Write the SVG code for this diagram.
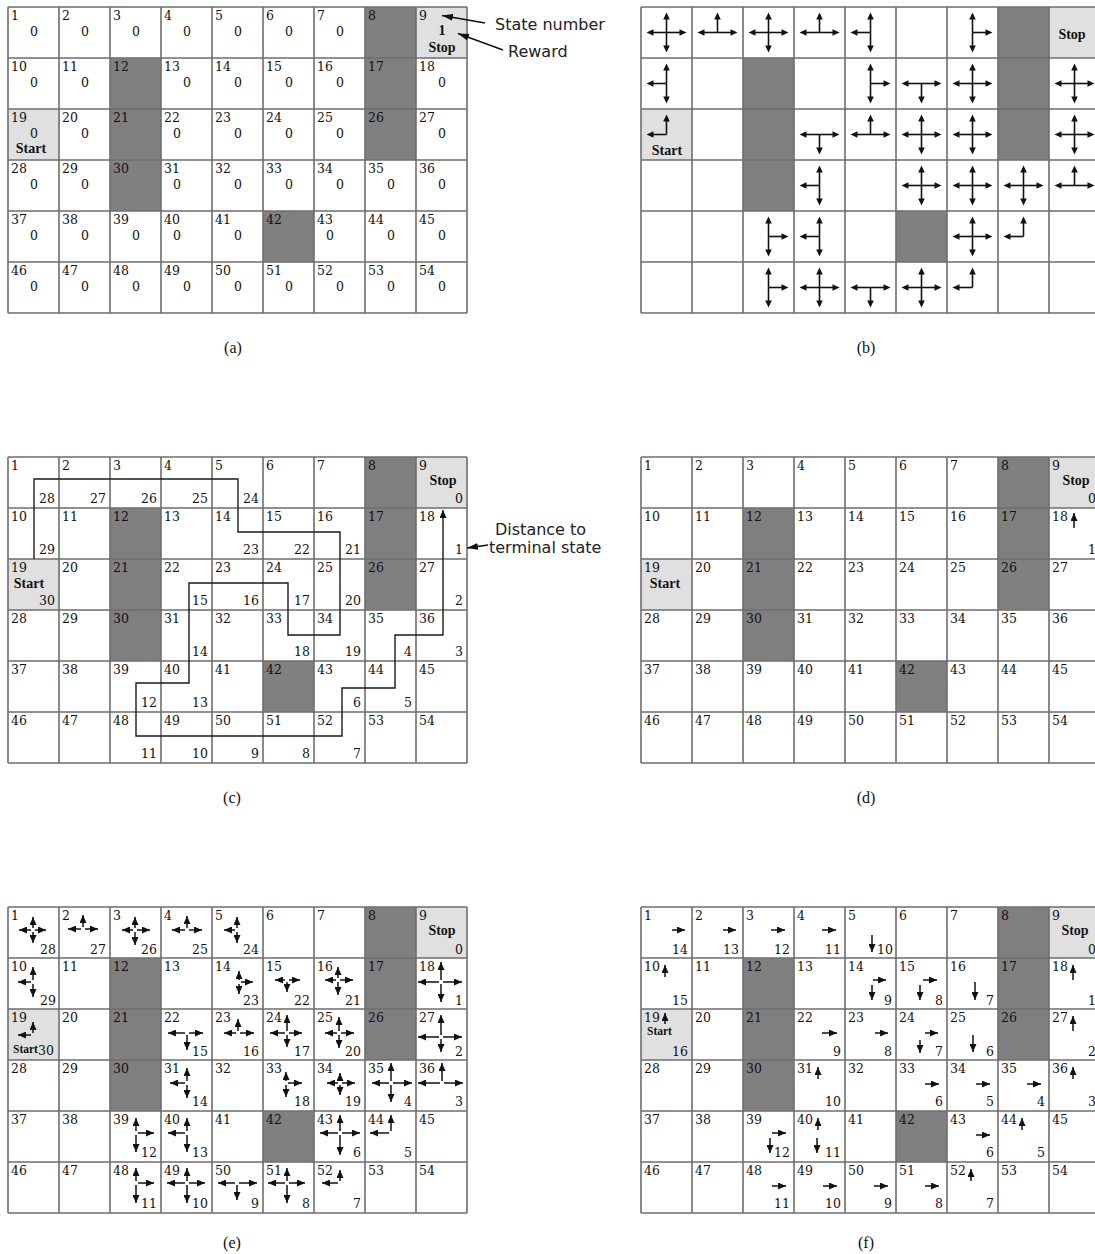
<svg xmlns="http://www.w3.org/2000/svg" xmlns:xlink="http://www.w3.org/1999/xlink" width="1095" height="1254" viewBox="0 0 1095 1254">
<style>
.num text, text.num { font-family: "DejaVu Serif", "Liberation Serif", serif; font-size: 12.5px; fill: #111; }
.mid { text-anchor: middle; }
.end { text-anchor: end; }
.bold { font-family: "Liberation Serif", serif; font-weight: bold; font-size: 14px; fill: #111; text-anchor: middle; }
.bsm { font-family: "Liberation Serif", serif; font-weight: bold; font-size: 11.5px; fill: #111; }
.lab { font-family: "Liberation Serif", serif; font-size: 16px; fill: #111; text-anchor: middle; }
.ann { font-family: "DejaVu Sans", sans-serif; font-size: 16px; fill: #222; }
.gl { fill: none; stroke: #6e6e6e; stroke-width: 1.6; }
.dk { fill: #808080; }
.lt { fill: #e0e0e0; }
.ar path { fill: none; stroke: #111; stroke-width: 1.5; marker-end: url(#h); }
.ln { stroke: #111; stroke-width: 1.6; }
.hd { fill: #111; }
</style>
<defs>
<marker id="h" viewBox="0 0 8 7" refX="8" refY="3.5" markerWidth="8" markerHeight="7" markerUnits="userSpaceOnUse" orient="auto"><path d="M0,0L8,3.5L0,7z" fill="#111"/></marker>
<marker id="ha" viewBox="0 0 11 7" refX="11" refY="3.5" markerWidth="11" markerHeight="7" markerUnits="userSpaceOnUse" orient="auto"><path d="M0,0L11,3.5L0,7z" fill="#111"/></marker>
<path id="grid" class="gl" d="M0,0V306M51,0V306M102,0V306M153,0V306M204,0V306M255,0V306M306,0V306M357,0V306M408,0V306M459,0V306M0,0H459M0,51H459M0,102H459M0,153H459M0,204H459M0,255H459M0,306H459"/>
<g id="shade">
<rect class="dk" x="357" y="0" width="51" height="153"/>
<rect class="dk" x="102" y="51" width="51" height="153"/>
<rect class="dk" x="255" y="204" width="51" height="51"/>
<rect class="lt" x="408" y="0" width="51" height="51"/>
<rect class="lt" x="0" y="102" width="51" height="51"/>
</g>
<g id="bu"><line class="ln" x1="0" y1="0" x2="0" y2="-14"/><polygon class="hd" points="0,-20 -3.3,-13 3.3,-13"/></g>
<g id="bd"><line class="ln" x1="0" y1="0" x2="0" y2="14"/><polygon class="hd" points="0,20 -3.3,13 3.3,13"/></g>
<g id="bl"><line class="ln" x1="0" y1="0" x2="-14" y2="0"/><polygon class="hd" points="-20,0 -13,-3.3 -13,3.3"/></g>
<g id="br"><line class="ln" x1="0" y1="0" x2="14" y2="0"/><polygon class="hd" points="20,0 13,-3.3 13,3.3"/></g>
</defs>
<rect width="1095" height="1254" fill="#fff"/>

<!-- (a) -->
<g id="grid-a" transform="translate(8,7)">
<use href="#shade"/><use href="#grid"/>
<g class="num">
<text x="3" y="13">1</text><text x="54" y="13">2</text><text x="105" y="13">3</text><text x="156" y="13">4</text><text x="207" y="13">5</text><text x="258" y="13">6</text><text x="309" y="13">7</text><text x="360" y="13">8</text><text x="411" y="13">9</text>
<text x="3" y="64">10</text><text x="54" y="64">11</text><text x="105" y="64">12</text><text x="156" y="64">13</text><text x="207" y="64">14</text><text x="258" y="64">15</text><text x="309" y="64">16</text><text x="360" y="64">17</text><text x="411" y="64">18</text>
<text x="3" y="115">19</text><text x="54" y="115">20</text><text x="105" y="115">21</text><text x="156" y="115">22</text><text x="207" y="115">23</text><text x="258" y="115">24</text><text x="309" y="115">25</text><text x="360" y="115">26</text><text x="411" y="115">27</text>
<text x="3" y="166">28</text><text x="54" y="166">29</text><text x="105" y="166">30</text><text x="156" y="166">31</text><text x="207" y="166">32</text><text x="258" y="166">33</text><text x="309" y="166">34</text><text x="360" y="166">35</text><text x="411" y="166">36</text>
<text x="3" y="217">37</text><text x="54" y="217">38</text><text x="105" y="217">39</text><text x="156" y="217">40</text><text x="207" y="217">41</text><text x="258" y="217">42</text><text x="309" y="217">43</text><text x="360" y="217">44</text><text x="411" y="217">45</text>
<text x="3" y="268">46</text><text x="54" y="268">47</text><text x="105" y="268">48</text><text x="156" y="268">49</text><text x="207" y="268">50</text><text x="258" y="268">51</text><text x="309" y="268">52</text><text x="360" y="268">53</text><text x="411" y="268">54</text>
</g>
<g class="num mid">
<text x="26" y="29">0</text><text x="77" y="29">0</text><text x="128" y="29">0</text><text x="179" y="29">0</text><text x="230" y="29">0</text><text x="281" y="29">0</text><text x="332" y="29">0</text>
<text x="26" y="80">0</text><text x="77" y="80">0</text><text x="179" y="80">0</text><text x="230" y="80">0</text><text x="281" y="80">0</text><text x="332" y="80">0</text><text x="434" y="80">0</text>
<text x="26" y="131">0</text><text x="77" y="131">0</text><text x="169" y="131">0</text><text x="230" y="131">0</text><text x="281" y="131">0</text><text x="332" y="131">0</text><text x="434" y="131">0</text>
<text x="26" y="182">0</text><text x="77" y="182">0</text><text x="169" y="182">0</text><text x="230" y="182">0</text><text x="281" y="182">0</text><text x="332" y="182">0</text><text x="383" y="182">0</text><text x="434" y="182">0</text>
<text x="26" y="233">0</text><text x="77" y="233">0</text><text x="128" y="233">0</text><text x="169" y="233">0</text><text x="230" y="233">0</text><text x="322" y="233">0</text><text x="383" y="233">0</text><text x="434" y="233">0</text>
<text x="26" y="284">0</text><text x="77" y="284">0</text><text x="128" y="284">0</text><text x="179" y="284">0</text><text x="230" y="284">0</text><text x="281" y="284">0</text><text x="332" y="284">0</text><text x="383" y="284">0</text><text x="434" y="284">0</text>
</g>
<text class="bold" x="434" y="28">1</text>
<text class="bold" x="434" y="45">Stop</text>
<text class="bold" x="23" y="146">Start</text>
</g>

<!-- (b) -->
<g id="grid-b" transform="translate(641,7)">
<use href="#shade"/><use href="#grid"/>
<text class="bold" x="431" y="32">Stop</text>
<text class="bold" x="26" y="148">Start</text>
<use href="#bu" x="25.5" y="25.5"/><use href="#bd" x="25.5" y="25.5"/><use href="#bl" x="25.5" y="25.5"/><use href="#br" x="25.5" y="25.5"/>
<use href="#bu" x="76.5" y="25.5"/><use href="#bl" x="76.5" y="25.5"/><use href="#br" x="76.5" y="25.5"/>
<use href="#bu" x="127.5" y="25.5"/><use href="#bd" x="127.5" y="25.5"/><use href="#bl" x="127.5" y="25.5"/><use href="#br" x="127.5" y="25.5"/>
<use href="#bu" x="178.5" y="25.5"/><use href="#bl" x="178.5" y="25.5"/><use href="#br" x="178.5" y="25.5"/>
<use href="#bu" x="229.5" y="25.5"/><use href="#bd" x="229.5" y="25.5"/><use href="#bl" x="229.5" y="25.5"/>
<use href="#bu" x="331.5" y="25.5"/><use href="#bd" x="331.5" y="25.5"/><use href="#br" x="331.5" y="25.5"/>
<use href="#bu" x="25.5" y="76.5"/><use href="#bd" x="25.5" y="76.5"/><use href="#bl" x="25.5" y="76.5"/>
<use href="#bu" x="229.5" y="76.5"/><use href="#bd" x="229.5" y="76.5"/><use href="#br" x="229.5" y="76.5"/>
<use href="#bd" x="280.5" y="76.5"/><use href="#bl" x="280.5" y="76.5"/><use href="#br" x="280.5" y="76.5"/>
<use href="#bu" x="331.5" y="76.5"/><use href="#bd" x="331.5" y="76.5"/><use href="#bl" x="331.5" y="76.5"/><use href="#br" x="331.5" y="76.5"/>
<use href="#bu" x="433.5" y="76.5"/><use href="#bd" x="433.5" y="76.5"/><use href="#bl" x="433.5" y="76.5"/><use href="#br" x="433.5" y="76.5"/>
<use href="#bu" x="25.5" y="127.5"/><use href="#bl" x="25.5" y="127.5"/>
<use href="#bd" x="178.5" y="127.5"/><use href="#bl" x="178.5" y="127.5"/><use href="#br" x="178.5" y="127.5"/>
<use href="#bu" x="229.5" y="127.5"/><use href="#bl" x="229.5" y="127.5"/><use href="#br" x="229.5" y="127.5"/>
<use href="#bu" x="280.5" y="127.5"/><use href="#bd" x="280.5" y="127.5"/><use href="#bl" x="280.5" y="127.5"/><use href="#br" x="280.5" y="127.5"/>
<use href="#bu" x="331.5" y="127.5"/><use href="#bd" x="331.5" y="127.5"/><use href="#bl" x="331.5" y="127.5"/><use href="#br" x="331.5" y="127.5"/>
<use href="#bu" x="433.5" y="127.5"/><use href="#bd" x="433.5" y="127.5"/><use href="#bl" x="433.5" y="127.5"/><use href="#br" x="433.5" y="127.5"/>
<use href="#bu" x="178.5" y="178.5"/><use href="#bd" x="178.5" y="178.5"/><use href="#bl" x="178.5" y="178.5"/>
<use href="#bu" x="280.5" y="178.5"/><use href="#bd" x="280.5" y="178.5"/><use href="#bl" x="280.5" y="178.5"/><use href="#br" x="280.5" y="178.5"/>
<use href="#bu" x="331.5" y="178.5"/><use href="#bd" x="331.5" y="178.5"/><use href="#bl" x="331.5" y="178.5"/><use href="#br" x="331.5" y="178.5"/>
<use href="#bu" x="382.5" y="178.5"/><use href="#bd" x="382.5" y="178.5"/><use href="#bl" x="382.5" y="178.5"/><use href="#br" x="382.5" y="178.5"/>
<use href="#bu" x="433.5" y="178.5"/><use href="#bl" x="433.5" y="178.5"/><use href="#br" x="433.5" y="178.5"/>
<use href="#bu" x="127.5" y="229.5"/><use href="#bd" x="127.5" y="229.5"/><use href="#br" x="127.5" y="229.5"/>
<use href="#bu" x="178.5" y="229.5"/><use href="#bd" x="178.5" y="229.5"/><use href="#bl" x="178.5" y="229.5"/>
<use href="#bu" x="331.5" y="229.5"/><use href="#bd" x="331.5" y="229.5"/><use href="#bl" x="331.5" y="229.5"/><use href="#br" x="331.5" y="229.5"/>
<use href="#bu" x="382.5" y="229.5"/><use href="#bl" x="382.5" y="229.5"/>
<use href="#bu" x="127.5" y="280.5"/><use href="#bd" x="127.5" y="280.5"/><use href="#br" x="127.5" y="280.5"/>
<use href="#bu" x="178.5" y="280.5"/><use href="#bd" x="178.5" y="280.5"/><use href="#bl" x="178.5" y="280.5"/><use href="#br" x="178.5" y="280.5"/>
<use href="#bd" x="229.5" y="280.5"/><use href="#bl" x="229.5" y="280.5"/><use href="#br" x="229.5" y="280.5"/>
<use href="#bu" x="280.5" y="280.5"/><use href="#bd" x="280.5" y="280.5"/><use href="#bl" x="280.5" y="280.5"/><use href="#br" x="280.5" y="280.5"/>
<use href="#bu" x="331.5" y="280.5"/><use href="#bl" x="331.5" y="280.5"/>
</g>

<!-- (c) -->
<g id="grid-c" transform="translate(8,457)">
<use href="#shade"/><use href="#grid"/>
<g class="num">
<text x="3" y="13">1</text><text x="54" y="13">2</text><text x="105" y="13">3</text><text x="156" y="13">4</text><text x="207" y="13">5</text><text x="258" y="13">6</text><text x="309" y="13">7</text><text x="360" y="13">8</text><text x="411" y="13">9</text>
<text x="3" y="64">10</text><text x="54" y="64">11</text><text x="105" y="64">12</text><text x="156" y="64">13</text><text x="207" y="64">14</text><text x="258" y="64">15</text><text x="309" y="64">16</text><text x="360" y="64">17</text><text x="411" y="64">18</text>
<text x="3" y="115">19</text><text x="54" y="115">20</text><text x="105" y="115">21</text><text x="156" y="115">22</text><text x="207" y="115">23</text><text x="258" y="115">24</text><text x="309" y="115">25</text><text x="360" y="115">26</text><text x="411" y="115">27</text>
<text x="3" y="166">28</text><text x="54" y="166">29</text><text x="105" y="166">30</text><text x="156" y="166">31</text><text x="207" y="166">32</text><text x="258" y="166">33</text><text x="309" y="166">34</text><text x="360" y="166">35</text><text x="411" y="166">36</text>
<text x="3" y="217">37</text><text x="54" y="217">38</text><text x="105" y="217">39</text><text x="156" y="217">40</text><text x="207" y="217">41</text><text x="258" y="217">42</text><text x="309" y="217">43</text><text x="360" y="217">44</text><text x="411" y="217">45</text>
<text x="3" y="268">46</text><text x="54" y="268">47</text><text x="105" y="268">48</text><text x="156" y="268">49</text><text x="207" y="268">50</text><text x="258" y="268">51</text><text x="309" y="268">52</text><text x="360" y="268">53</text><text x="411" y="268">54</text>
</g>
<g class="num end">
<text x="47" y="46">28</text><text x="98" y="46">27</text><text x="149" y="46">26</text><text x="200" y="46">25</text><text x="251" y="46">24</text><text x="455" y="46">0</text>
<text x="47" y="97">29</text><text x="251" y="97">23</text><text x="302" y="97">22</text><text x="353" y="97">21</text><text x="455" y="97">1</text>
<text x="47" y="148">30</text><text x="200" y="148">15</text><text x="251" y="148">16</text><text x="302" y="148">17</text><text x="353" y="148">20</text><text x="455" y="148">2</text>
<text x="200" y="199">14</text><text x="302" y="199">18</text><text x="353" y="199">19</text><text x="404" y="199">4</text><text x="455" y="199">3</text>
<text x="149" y="250">12</text><text x="200" y="250">13</text><text x="353" y="250">6</text><text x="404" y="250">5</text>
<text x="149" y="301">11</text><text x="200" y="301">10</text><text x="251" y="301">9</text><text x="302" y="301">8</text><text x="353" y="301">7</text>
</g>
<text class="bold" x="435" y="28">Stop</text>
<text class="bold" x="21" y="131">Start</text>
</g>

<!-- (d) -->
<g id="grid-d" transform="translate(641,457)">
<use href="#shade"/><use href="#grid"/>
<g class="num">
<text x="3" y="13">1</text><text x="54" y="13">2</text><text x="105" y="13">3</text><text x="156" y="13">4</text><text x="207" y="13">5</text><text x="258" y="13">6</text><text x="309" y="13">7</text><text x="360" y="13">8</text><text x="411" y="13">9</text>
<text x="3" y="64">10</text><text x="54" y="64">11</text><text x="105" y="64">12</text><text x="156" y="64">13</text><text x="207" y="64">14</text><text x="258" y="64">15</text><text x="309" y="64">16</text><text x="360" y="64">17</text><text x="411" y="64">18</text>
<text x="3" y="115">19</text><text x="54" y="115">20</text><text x="105" y="115">21</text><text x="156" y="115">22</text><text x="207" y="115">23</text><text x="258" y="115">24</text><text x="309" y="115">25</text><text x="360" y="115">26</text><text x="411" y="115">27</text>
<text x="3" y="166">28</text><text x="54" y="166">29</text><text x="105" y="166">30</text><text x="156" y="166">31</text><text x="207" y="166">32</text><text x="258" y="166">33</text><text x="309" y="166">34</text><text x="360" y="166">35</text><text x="411" y="166">36</text>
<text x="3" y="217">37</text><text x="54" y="217">38</text><text x="105" y="217">39</text><text x="156" y="217">40</text><text x="207" y="217">41</text><text x="258" y="217">42</text><text x="309" y="217">43</text><text x="360" y="217">44</text><text x="411" y="217">45</text>
<text x="3" y="268">46</text><text x="54" y="268">47</text><text x="105" y="268">48</text><text x="156" y="268">49</text><text x="207" y="268">50</text><text x="258" y="268">51</text><text x="309" y="268">52</text><text x="360" y="268">53</text><text x="411" y="268">54</text>
</g>
<g class="num end"><text x="455" y="46">0</text><text x="455" y="97">1</text></g>
<g class="ar"><path d="M433,71V56"/></g>
<text class="bold" x="435" y="28">Stop</text>
<text class="bold" x="24" y="131">Start</text>
</g>

<!-- (e) -->
<g id="grid-e" transform="translate(8,907)">
<use href="#shade"/><use href="#grid"/>
<g class="num">
<text x="3" y="13">1</text><text x="54" y="13">2</text><text x="105" y="13">3</text><text x="156" y="13">4</text><text x="207" y="13">5</text><text x="258" y="13">6</text><text x="309" y="13">7</text><text x="360" y="13">8</text><text x="411" y="13">9</text>
<text x="3" y="64">10</text><text x="54" y="64">11</text><text x="105" y="64">12</text><text x="156" y="64">13</text><text x="207" y="64">14</text><text x="258" y="64">15</text><text x="309" y="64">16</text><text x="360" y="64">17</text><text x="411" y="64">18</text>
<text x="3" y="115">19</text><text x="54" y="115">20</text><text x="105" y="115">21</text><text x="156" y="115">22</text><text x="207" y="115">23</text><text x="258" y="115">24</text><text x="309" y="115">25</text><text x="360" y="115">26</text><text x="411" y="115">27</text>
<text x="3" y="166">28</text><text x="54" y="166">29</text><text x="105" y="166">30</text><text x="156" y="166">31</text><text x="207" y="166">32</text><text x="258" y="166">33</text><text x="309" y="166">34</text><text x="360" y="166">35</text><text x="411" y="166">36</text>
<text x="3" y="217">37</text><text x="54" y="217">38</text><text x="105" y="217">39</text><text x="156" y="217">40</text><text x="207" y="217">41</text><text x="258" y="217">42</text><text x="309" y="217">43</text><text x="360" y="217">44</text><text x="411" y="217">45</text>
<text x="3" y="268">46</text><text x="54" y="268">47</text><text x="105" y="268">48</text><text x="156" y="268">49</text><text x="207" y="268">50</text><text x="258" y="268">51</text><text x="309" y="268">52</text><text x="360" y="268">53</text><text x="411" y="268">54</text>
</g>
<g class="num end">
<text x="48" y="47">28</text><text x="98" y="47">27</text><text x="149" y="47">26</text><text x="200" y="47">25</text><text x="251" y="47">24</text><text x="455" y="47">0</text>
<text x="48" y="98">29</text><text x="251" y="98">23</text><text x="302" y="98">22</text><text x="353" y="98">21</text><text x="455" y="98">1</text>
<text x="46" y="148">30</text><text x="200" y="149">15</text><text x="251" y="149">16</text><text x="302" y="149">17</text><text x="353" y="149">20</text><text x="455" y="149">2</text>
<text x="200" y="199">14</text><text x="302" y="199">18</text><text x="353" y="199">19</text><text x="404" y="199">4</text><text x="455" y="199">3</text>
<text x="149" y="250">12</text><text x="200" y="250">13</text><text x="353" y="250">6</text><text x="404" y="250">5</text>
<text x="149" y="301">11</text><text x="200" y="301">10</text><text x="251" y="301">9</text><text x="302" y="301">8</text><text x="353" y="301">7</text>
</g>
<text class="bold" x="434" y="28">Stop</text>
<text class="bsm" x="5" y="146">Start</text>
<g class="ar">
<path d="M25,21V10"/><path d="M25,25V36"/><path d="M23,23H11"/><path d="M27,23H38"/>
<path d="M75,20V8"/><path d="M73,22H60"/><path d="M77,22H90"/>
<path d="M127,21V10"/><path d="M127,25V38"/><path d="M125,23H114"/><path d="M129,23H142"/>
<path d="M179,21V9"/><path d="M177,23H164"/><path d="M181,23H194"/>
<path d="M229,21V10"/><path d="M229,25V36"/><path d="M227,23H216"/>
<path d="M25,73V60"/><path d="M25,77V90"/><path d="M23,75H10"/>
<path d="M231,73V64"/><path d="M231,77V87"/><path d="M233,75H245"/>
<path d="M279,75V85"/><path d="M277,73H267"/><path d="M281,73H292"/>
<path d="M330,71V60"/><path d="M330,75V88"/><path d="M328,73H317"/><path d="M332,73H345"/>
<path d="M433,73V55"/><path d="M433,77V95"/><path d="M431,75H410"/><path d="M435,75H454"/>
<path d="M25,126V115"/><path d="M23,128H10"/>
<path d="M179,128V143"/><path d="M177,126H160"/><path d="M181,126H195"/>
<path d="M230,124V112"/><path d="M228,126H216"/><path d="M232,126H246"/>
<path d="M279,124V108"/><path d="M279,128V140"/><path d="M277,126H262"/><path d="M281,126H294"/>
<path d="M331,124V110"/><path d="M331,128V141"/><path d="M329,126H317"/><path d="M333,126H346"/>
<path d="M433,128V108"/><path d="M433,132V145"/><path d="M431,130H410"/><path d="M435,130H454"/>
<path d="M179,174V161"/><path d="M179,178V191"/><path d="M177,176H162"/>
<path d="M278,174V165"/><path d="M278,178V190"/><path d="M280,176H294"/>
<path d="M332,174V166"/><path d="M332,178V188"/><path d="M330,176H319"/><path d="M334,176H347"/>
<path d="M383,174V156"/><path d="M383,178V195"/><path d="M381,176H364"/><path d="M385,176H404"/>
<path d="M434,174V156"/><path d="M432,176H410"/><path d="M436,176H455"/>
<path d="M128,224V211"/><path d="M128,228V245"/><path d="M130,226H146"/>
<path d="M179,224V211"/><path d="M179,228V245"/><path d="M177,226H160"/>
<path d="M332,224V208"/><path d="M332,228V248"/><path d="M330,226H312"/><path d="M334,226H352"/>
<path d="M383,224V208"/><path d="M381,226H362"/>
<path d="M128,274V261"/><path d="M128,278V296"/><path d="M130,276H146"/>
<path d="M179,274V261"/><path d="M179,278V296"/><path d="M177,276H159"/><path d="M181,276H197"/>
<path d="M229,278V293"/><path d="M227,276H210"/><path d="M231,276H249"/>
<path d="M279,274V261"/><path d="M279,278V296"/><path d="M277,276H260"/><path d="M281,276H297"/>
<path d="M332,274V263"/><path d="M330,276H314"/>
</g>
</g>

<!-- (f) -->
<g id="grid-f" transform="translate(641,907)">
<use href="#shade"/><use href="#grid"/>
<g class="num">
<text x="3" y="13">1</text><text x="54" y="13">2</text><text x="105" y="13">3</text><text x="156" y="13">4</text><text x="207" y="13">5</text><text x="258" y="13">6</text><text x="309" y="13">7</text><text x="360" y="13">8</text><text x="411" y="13">9</text>
<text x="3" y="64">10</text><text x="54" y="64">11</text><text x="105" y="64">12</text><text x="156" y="64">13</text><text x="207" y="64">14</text><text x="258" y="64">15</text><text x="309" y="64">16</text><text x="360" y="64">17</text><text x="411" y="64">18</text>
<text x="3" y="115">19</text><text x="54" y="115">20</text><text x="105" y="115">21</text><text x="156" y="115">22</text><text x="207" y="115">23</text><text x="258" y="115">24</text><text x="309" y="115">25</text><text x="360" y="115">26</text><text x="411" y="115">27</text>
<text x="3" y="166">28</text><text x="54" y="166">29</text><text x="105" y="166">30</text><text x="156" y="166">31</text><text x="207" y="166">32</text><text x="258" y="166">33</text><text x="309" y="166">34</text><text x="360" y="166">35</text><text x="411" y="166">36</text>
<text x="3" y="217">37</text><text x="54" y="217">38</text><text x="105" y="217">39</text><text x="156" y="217">40</text><text x="207" y="217">41</text><text x="258" y="217">42</text><text x="309" y="217">43</text><text x="360" y="217">44</text><text x="411" y="217">45</text>
<text x="3" y="268">46</text><text x="54" y="268">47</text><text x="105" y="268">48</text><text x="156" y="268">49</text><text x="207" y="268">50</text><text x="258" y="268">51</text><text x="309" y="268">52</text><text x="360" y="268">53</text><text x="411" y="268">54</text>
</g>
<g class="num end">
<text x="47" y="47">14</text><text x="98" y="47">13</text><text x="149" y="47">12</text><text x="200" y="47">11</text><text x="252" y="47">10</text><text x="455" y="47">0</text>
<text x="47" y="98">15</text><text x="251" y="98">9</text><text x="302" y="98">8</text><text x="353" y="98">7</text><text x="455" y="98">1</text>
<text x="47" y="149">16</text><text x="200" y="149">9</text><text x="251" y="149">8</text><text x="302" y="149">7</text><text x="353" y="149">6</text><text x="455" y="149">2</text>
<text x="200" y="199">10</text><text x="302" y="199">6</text><text x="353" y="199">5</text><text x="404" y="199">4</text><text x="455" y="199">3</text>
<text x="149" y="250">12</text><text x="200" y="250">11</text><text x="353" y="250">6</text><text x="404" y="250">5</text>
<text x="149" y="301">11</text><text x="200" y="301">10</text><text x="251" y="301">9</text><text x="302" y="301">8</text><text x="353" y="301">7</text>
</g>
<text class="bold" x="434" y="28">Stop</text>
<text class="bsm" x="6" y="128">Start</text>
<g class="ar">
<path d="M31,23H44"/><path d="M82,23H95"/><path d="M130,23H144"/><path d="M181,23H195"/>
<path d="M231,28V45"/>
<path d="M24,70V58"/>
<path d="M232,73H245"/><path d="M231,78V93"/>
<path d="M282,73H296"/><path d="M279,78V93"/>
<path d="M334,75V93"/>
<path d="M432,73V58"/>
<path d="M24,117V106"/>
<path d="M181,126H196"/>
<path d="M234,126H247"/>
<path d="M284,126H297"/><path d="M279,133V146"/>
<path d="M332,128V145"/>
<path d="M432,124V109"/>
<path d="M177,172V160"/>
<path d="M284,177H298"/><path d="M335,177H349"/><path d="M386,177H400"/>
<path d="M432,172V160"/>
<path d="M131,226H145"/><path d="M129,231V246"/>
<path d="M177,223V211"/><path d="M176,231V246"/>
<path d="M335,228H349"/>
<path d="M381,223V211"/>
<path d="M131,279H145"/><path d="M182,279H196"/><path d="M233,279H247"/><path d="M284,279H298"/>
<path d="M330,274V262"/>
</g>
</g>

<!-- connectors -->
<g id="connectors">
<path d="M34,559V479H238V532H340V635H288V583H189V683H136V736H342V688H395V635H443V510" fill="none" stroke="#1a1a1a" stroke-width="1.4" marker-end="url(#h)"/>
<path d="M485,23L442,15.5" fill="none" stroke="#111" stroke-width="1.6" marker-end="url(#ha)"/>
<path d="M503,50L458,33.5" fill="none" stroke="#111" stroke-width="1.6" marker-end="url(#ha)"/>
<path d="M488,545L467,548" fill="none" stroke="#111" stroke-width="1.6" marker-end="url(#ha)"/>
</g>

<!-- annotations -->
<text class="ann" x="495" y="30">State number</text>
<text class="ann" x="508" y="57">Reward</text>
<text class="ann" x="495" y="535">Distance to</text>
<text class="ann" x="489" y="553">terminal state</text>

<text class="lab" x="233" y="353">(a)</text>
<text class="lab" x="866" y="353">(b)</text>
<text class="lab" x="232" y="803">(c)</text>
<text class="lab" x="866" y="803">(d)</text>
<text class="lab" x="232" y="1248">(e)</text>
<text class="lab" x="866" y="1248">(f)</text>
</svg>
